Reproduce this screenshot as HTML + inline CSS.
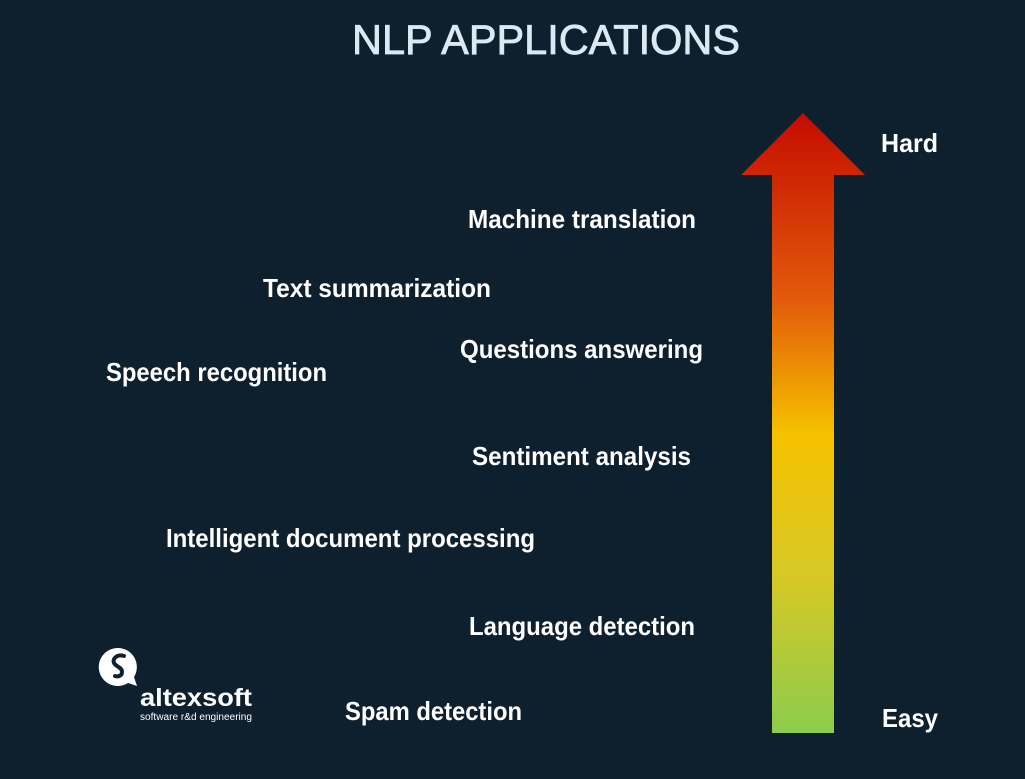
<!DOCTYPE html>
<html><head><meta charset="utf-8"><style>
html,body{margin:0;padding:0;background:#0e1f2e;}
svg{display:block}
text{font-family:"Liberation Sans",sans-serif;}
</style></head><body>
<svg width="1025" height="779" viewBox="0 0 1025 779" xmlns="http://www.w3.org/2000/svg">
<defs>
<linearGradient id="g" x1="0" y1="113" x2="0" y2="733" gradientUnits="userSpaceOnUse">
<stop offset="0" stop-color="#c40c00"/>
<stop offset="0.3" stop-color="#e25a0a"/>
<stop offset="0.52" stop-color="#f6c200"/>
<stop offset="0.75" stop-color="#d6c826"/>
<stop offset="1" stop-color="#8ccc4c"/>
</linearGradient>
</defs>
<rect width="1025" height="779" fill="#0e1f2e"/>
<text x="352" y="54" font-size="42" fill="#dbe9f2" stroke="#dbe9f2" stroke-width="0.8" textLength="388" lengthAdjust="spacingAndGlyphs">NLP APPLICATIONS</text>
<polygon points="803,113 865,175 834,175 834,733 772,733 772,175 741,175" fill="url(#g)"/>
<g fill="#ffffff" font-size="26" font-weight="bold">
<text x="881" y="152" textLength="57" lengthAdjust="spacingAndGlyphs">Hard</text>
<text x="468" y="228" textLength="228" lengthAdjust="spacingAndGlyphs">Machine translation</text>
<text x="263" y="297" textLength="228" lengthAdjust="spacingAndGlyphs">Text summarization</text>
<text x="460" y="358" textLength="243" lengthAdjust="spacingAndGlyphs">Questions answering</text>
<text x="106" y="381" textLength="221" lengthAdjust="spacingAndGlyphs">Speech recognition</text>
<text x="472" y="465" textLength="219" lengthAdjust="spacingAndGlyphs">Sentiment analysis</text>
<text x="166" y="547" textLength="369" lengthAdjust="spacingAndGlyphs">Intelligent document processing</text>
<text x="469" y="635" textLength="226" lengthAdjust="spacingAndGlyphs">Language detection</text>
<text x="345" y="720" textLength="177" lengthAdjust="spacingAndGlyphs">Spam detection</text>
<text x="882" y="727" textLength="56" lengthAdjust="spacingAndGlyphs">Easy</text>
</g>
<path d="M118,648 a19,19 0 1 0 10,35 l9,3 l-3,-9 a19,19 0 0 0 -16,-29z" fill="#ffffff"/>
<path d="M124,656 c-6,-2 -12,2 -10,7 c2,4 8,4 8,9 c0,4 -4,5 -7,4" stroke="#0e1f2e" stroke-width="4" fill="none" stroke-linecap="round"/>
<text x="140" y="706" font-size="25" font-weight="bold" fill="#ffffff" textLength="112" lengthAdjust="spacingAndGlyphs">altexsoft</text>
<text x="140" y="720" font-size="10" fill="#ffffff" textLength="112" lengthAdjust="spacingAndGlyphs">software r&amp;d engineering</text>
</svg>
</body></html>
